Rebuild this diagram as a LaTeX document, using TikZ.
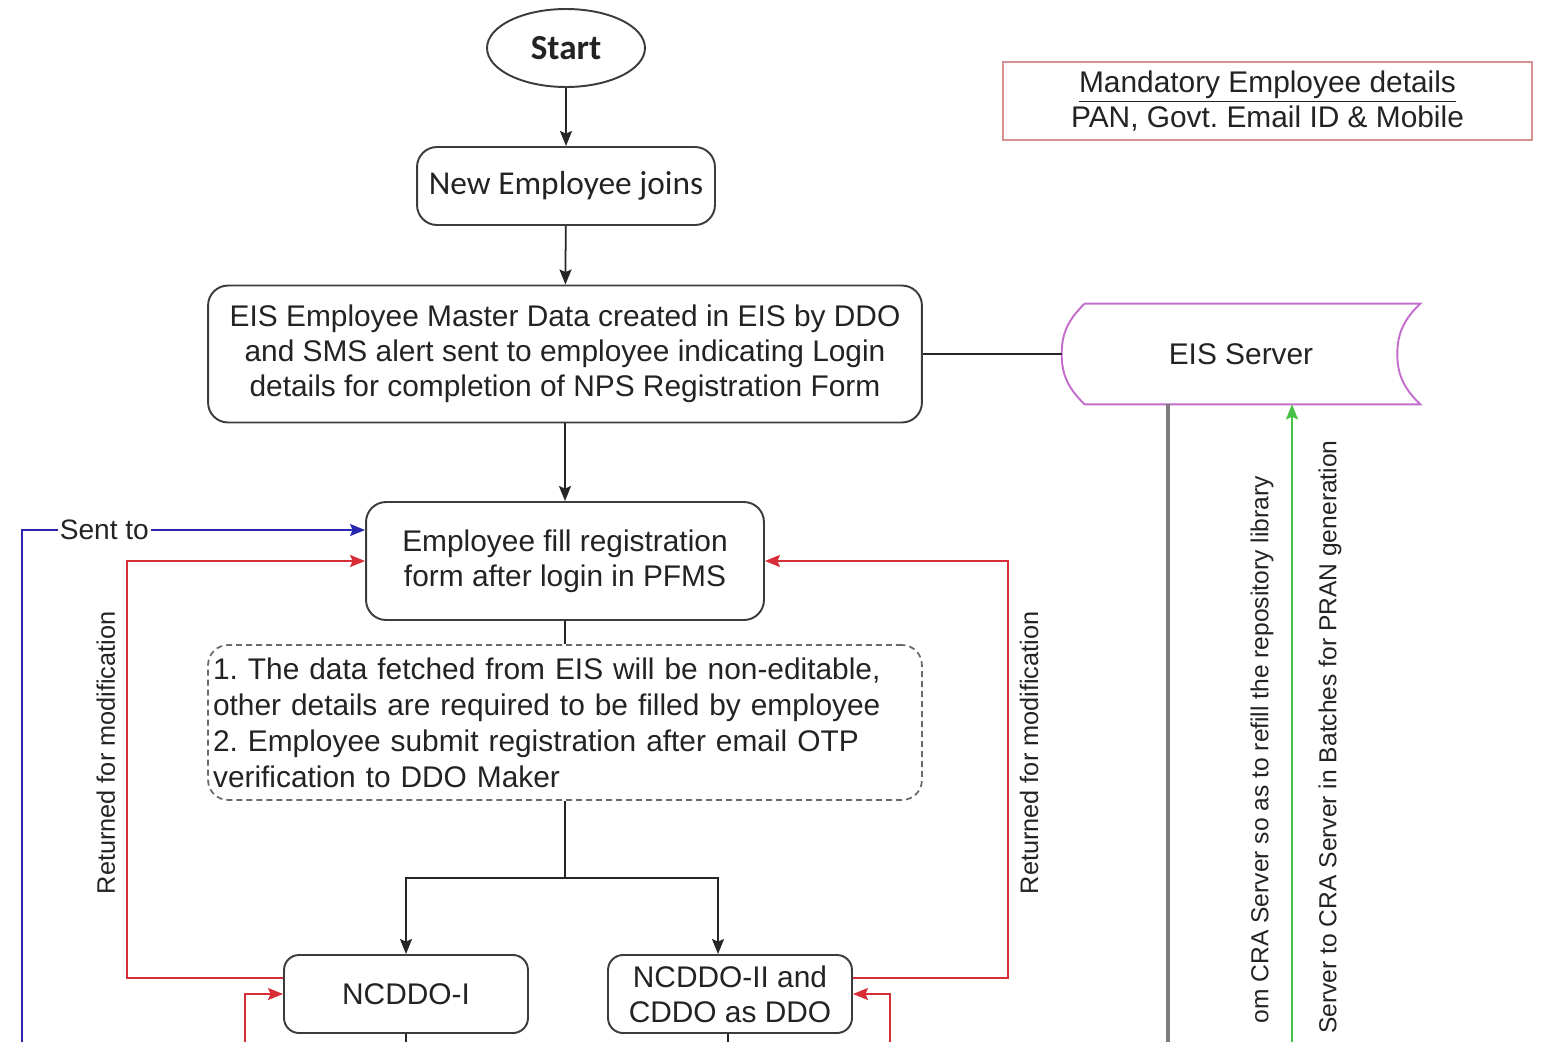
\documentclass[tikz,border=0pt]{standalone}
\usepackage{fontspec}
\setmainfont{Liberation Sans}
\newfontfamily\calfont{Carlito}
\usetikzlibrary{arrows.meta,shapes.geometric,positioning,calc}
\frenchspacing

\definecolor{boxgray}{RGB}{60,60,60}
\definecolor{inkgray}{RGB}{35,35,35}
\definecolor{retred}{RGB}{215,45,55}
\definecolor{sentblue}{RGB}{40,40,175}
\definecolor{servpink}{RGB}{195,110,205}
\definecolor{notegray}{RGB}{105,105,105}
\definecolor{mandred}{RGB}{215,145,145}
\definecolor{feedgreen}{RGB}{70,195,70}
\definecolor{linkgray}{RGB}{125,125,125}

\begin{document}
\begin{tikzpicture}[x=0.02cm, y=-0.02cm,
    font=\fontsize{17}{20}\selectfont, text=inkgray,
    procbox/.style={draw=boxgray, line width=1.1pt, rounded corners=0.4cm, align=center},
    startnode/.style={ellipse, draw=boxgray, line width=1.1pt, minimum width=3.16cm,
      minimum height=1.56cm, font=\calfont\bfseries\fontsize{20}{24}\selectfont},
    notebox/.style={draw=notegray, line width=1pt, dash pattern=on 0.12cm off 0.08cm,
      rounded corners=0.4cm, minimum width=14.28cm, minimum height=3.1cm,
      text width=14.08cm, inner xsep=0.1cm, align=left, font=\fontsize{17}{20.5}\selectfont},
    mandbox/.style={draw=mandred, line width=1pt, minimum width=10.58cm,
      minimum height=1.56cm, align=center},
    servertext/.style={minimum width=7.16cm, minimum height=2cm, inner sep=0},
    serverline/.style={draw=servpink, line width=1.1pt},
    plainlink/.style={draw=black!85, line width=1pt},
    flow/.style={plainlink, -{Stealth[length=0.3cm,width=0.24cm,inset=0.05cm]}},
    retline/.style={draw=retred, line width=1.1pt, -{Stealth[length=0.3cm,width=0.24cm,inset=0.05cm]}},
    sentline/.style={draw=sentblue, line width=1.1pt, -{Stealth[length=0.3cm,width=0.24cm,inset=0.05cm]}},
    grayline/.style={draw=linkgray, line width=1.8pt},
    feedline/.style={draw=feedgreen, line width=1.1pt, -{Stealth[length=0.3cm,width=0.24cm,inset=0.05cm]}},
    sidetext/.style={rotate=90, inner sep=0, font=\fontsize{14}{17}\selectfont},
    retlabel/.style={sidetext, inner sep=0.22cm, font=\fontsize{14.4}{17}\selectfont}]
  \useasboundingbox (0,0) rectangle (1542,1042);

  % main column
  \node[startnode] (start) at (566,48) {Start};
  \node[procbox, minimum width=5.96cm, minimum height=1.56cm,
    font=\calfont\fontsize{19}{23}\selectfont] (joins) at (566,186) {New Employee joins};
  \node[procbox, minimum width=14.28cm, minimum height=2.74cm] (master) at (565,354)
    {EIS Employee Master Data created in EIS by DDO\\
     and SMS alert sent to employee indicating Login\\
     details for completion of NPS Registration Form};
  \node[procbox, minimum width=7.96cm, minimum height=2.36cm] (fill) at (565,561)
    {Employee fill registration\\form after login in PFMS};
  \node[notebox] (note) at (565,722.5)
    {1. The data fetched from EIS will be non-editable,\\
     other details are required to be filled by employee\\
     2. Employee submit registration after email OTP\\
     verification to DDO Maker};
  \node[procbox, rounded corners=0.3cm, minimum width=4.88cm, minimum height=1.56cm] (ncddoi) at (406,994) {NCDDO-I};
  \node[procbox, rounded corners=0.3cm, minimum width=4.88cm, minimum height=1.56cm] (ncddoii) at (730,994)
    {NCDDO-II and\\CDDO as DDO};

  % right side
  \node[mandbox] (mand) at (1267.5,101)
    {\underline{Mandatory Employee details}\\PAN, Govt. Email ID \& Mobile};
  \node[servertext] (server) at (1241,354) {EIS Server};
  \draw[serverline] ([xshift=0.46cm]server.north west) -- (server.north east)
    .. controls +(-0.38cm,-0.36cm) and +(0,0.34cm) .. ([xshift=-0.46cm]server.east)
    .. controls +(0,-0.34cm) and +(-0.38cm,0.36cm) .. (server.south east)
    -- ([xshift=0.46cm]server.south west)
    .. controls +(-0.38cm,0.36cm) and +(0,-0.34cm) .. (server.west)
    .. controls +(0,0.34cm) and +(-0.38cm,-0.36cm) .. ([xshift=0.46cm]server.north west);

  % loose ends at the bottom edge
  \coordinate (bluein) at (22,1042);
  \coordinate (retini) at (245,1042);
  \coordinate (retinii) at (890,1042);
  \coordinate (outi) at (406,1042);
  \coordinate (outii) at (728,1042);
  \coordinate (grayend) at (1168,1042);
  \coordinate (greenstart) at (1292,1042);
  \coordinate (split) at (565,878);

  % connectors
  \draw[flow] (start) -- (joins);
  \draw[flow] (joins) -- (master);
  \draw[flow] (master) -- (fill);
  \draw[plainlink] (master.east) -- (server.west);
  \draw[plainlink] (fill.south) -- (note.north);
  \draw[plainlink] (note.south) -- (split);
  \draw[flow] (split) -| (ncddoi.north);
  \draw[flow] (split) -| ([xshift=-0.24cm]ncddoii.north);
  \draw[plainlink] (ncddoi.south) -- (outi);
  \draw[plainlink] (ncddoii.south -| outii) -- (outii);

  \draw[sentline] (bluein) |- ([yshift=0.62cm]fill.west)
    node[pos=0.62, fill=white, inner sep=1pt, font=\fontsize{16}{19}\selectfont] {Sent to};
  \draw[retline] ([yshift=0.32cm]ncddoi.west) -- ++(-3.12cm,0) |- (fill.west)
    node[retlabel, pos=0.27, anchor=south] {Returned for modification};
  \draw[retline] ([yshift=0.32cm]ncddoii.east) -- ++(3.1cm,0) |- (fill.east)
    node[retlabel, pos=0.27, anchor=north] {Returned for modification};
  \draw[retline] (retini) |- (ncddoi.west);
  \draw[retline] (retinii) |- (ncddoii.east);

  \draw[grayline] (server.south -| grayend) -- (grayend);
  \draw[feedline] (greenstart) -- (server.south -| greenstart);
  \node[sidetext, anchor=east] (refill) at (1262,476)
    {om CRA Server so as to refill the repository library};
  \node[sidetext, anchor=east] (batches) at (1330,440)
    {Server to CRA Server in Batches for PRAN generation};
\end{tikzpicture}
\end{document}
